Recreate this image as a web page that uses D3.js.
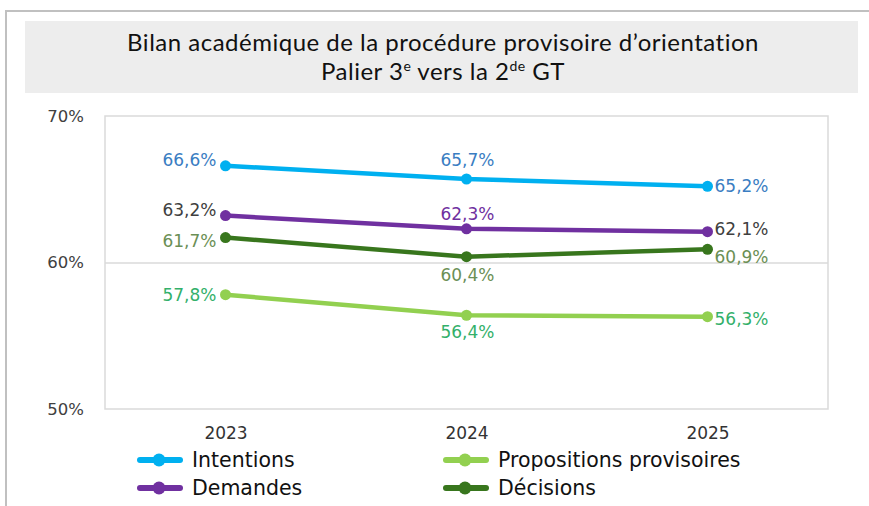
<!DOCTYPE html>
<html>
<head>
<meta charset="utf-8">
<script src="https://cdn.jsdelivr.net/npm/d3@7"></script>
<style>
  body { margin: 0; background: #fff; }
  svg { display: block; }
</style>
</head>
<body>
<div id="chart"></div>
<script>
// Data
var years = ["2023", "2024", "2025"];
var intentions   = [66.6, 65.7, 65.2];
var demandes     = [63.2, 62.3, 62.1];
var decisions    = [61.7, 60.4, 60.9];
var propositions = [57.8, 56.4, 56.3];
var yTicks = [50, 60, 70];

var series = [
  { name: "Intentions", values: intentions, color: "#00b0f0",
    labelColor: ["#3a7dc2", "#3a7dc2", "#3a7dc2"],
    place: [["left", -6], ["above", -19], ["right", 0]] },
  { name: "Demandes", values: demandes, color: "#7030a0",
    labelColor: ["#404040", "#7030a0", "#404040"],
    place: [["left", -6], ["above", -15], ["right", -3]] },
  { name: "Décisions", values: decisions, color: "#38761d",
    labelColor: ["#6b8f55", "#6b8f55", "#6b8f55"],
    place: [["left", 3], ["below", 18], ["right", 8]] },
  { name: "Propositions provisoires", values: propositions, color: "#92d050",
    labelColor: ["#33b06a", "#33b06a", "#33b06a"],
    place: [["left", 0], ["below", 17], ["right", 2]] }
];
var legendOrder = ["Intentions", "Propositions provisoires", "Demandes", "Décisions"];

var svg = d3.select("#chart").append("svg")
    .attr("width", 869)
    .attr("height", 506);

// outer frame (top and left edges only are visible)
svg.append("line").attr("x1", 5).attr("x2", 869).attr("y1", 11).attr("y2", 11)
    .attr("stroke", "#c0c0c0").attr("stroke-width", 2);
svg.append("line").attr("x1", 6).attr("x2", 6).attr("y1", 10).attr("y2", 506)
    .attr("stroke", "#c0c0c0").attr("stroke-width", 2);

// title box
svg.append("rect").attr("x", 25).attr("y", 21).attr("width", 833).attr("height", 72)
    .attr("fill", "#ededed");
var title = svg.append("text")
    .attr("text-anchor", "middle")
    .attr("font-family", "Lato, sans-serif")
    .attr("font-size", 24)
    .attr("letter-spacing", 0.5)
    .attr("fill", "#111");
title.append("tspan").attr("x", 443).attr("y", 51)
    .text("Bilan académique de la procédure provisoire d’orientation");
var t2 = title.append("tspan").attr("x", 443).attr("y", 80);
t2.append("tspan").text("Palier 3");
t2.append("tspan").attr("font-size", 14).attr("dy", -9).text("e");
t2.append("tspan").attr("dy", 9).text(" vers la 2");
t2.append("tspan").attr("font-size", 14).attr("dy", -9).text("de");
t2.append("tspan").attr("dy", 9).text(" GT");

var margin = { top: 116, left: 105, right: 41, bottom: 97 },
    width = 869 - margin.left - margin.right,
    height = 506 - margin.top - margin.bottom;

var x = d3.scalePoint().domain(years).range([0, width]).padding(0.5);
var y = d3.scaleLinear().domain([50, 70]).range([height, 0]);

var g = svg.append("g")
    .attr("transform", "translate(" + margin.left + "," + margin.top + ")");

// plot frame
g.append("rect").attr("width", width).attr("height", height)
    .attr("fill", "none").attr("stroke", "#dadada").attr("stroke-width", 1.5);

// grid line at 60%
g.append("g")
    .call(d3.axisLeft(y).tickValues([60]).tickSize(-width).tickFormat(""))
    .call(function(a) { a.select(".domain").remove(); })
    .selectAll("line").attr("stroke", "#dadada").attr("stroke-width", 1.5);

// y tick labels
g.append("g")
    .attr("transform", "translate(-18,0)")
    .call(d3.axisLeft(y).tickValues(yTicks).tickSize(0).tickFormat(function(d) { return d + "%"; }))
    .call(function(a) { a.select(".domain").remove(); })
    .selectAll("text")
    .attr("font-family", "DejaVu Sans, sans-serif")
    .attr("font-size", 16.5)
    .attr("fill", "#404040");

// x axis labels
g.append("g")
    .attr("transform", "translate(0," + height + ")")
    .call(d3.axisBottom(x).tickSize(0).tickPadding(18))
    .call(function(a) { a.select(".domain").remove(); })
    .selectAll("text")
    .attr("font-family", "DejaVu Sans, sans-serif")
    .attr("font-size", 17)
    .attr("fill", "#333");

var line = d3.line()
    .x(function(d, i) { return x(years[i]); })
    .y(function(d) { return y(d); });

series.forEach(function(s) {
  g.append("path")
      .datum(s.values)
      .attr("fill", "none")
      .attr("stroke", s.color)
      .attr("stroke-width", 4.5)
      .attr("stroke-linejoin", "round")
      .attr("d", line);

  g.selectAll(null)
      .data(s.values)
      .enter().append("circle")
      .attr("cx", function(d, i) { return x(years[i]); })
      .attr("cy", function(d) { return y(d); })
      .attr("r", 5.5)
      .attr("fill", s.color);

  g.selectAll(null)
      .data(s.values)
      .enter().append("text")
      .attr("font-family", "DejaVu Sans, sans-serif")
      .attr("font-size", 17)
      .attr("dominant-baseline", "central")
      .attr("fill", function(d, i) { return s.labelColor[i]; })
      .attr("text-anchor", function(d, i) {
        var p = s.place[i][0];
        return p === "left" ? "end" : p === "right" ? "start" : "middle";
      })
      .attr("x", function(d, i) {
        var p = s.place[i][0];
        return x(years[i]) + (p === "left" ? -9 : p === "right" ? 7 : 1);
      })
      .attr("y", function(d, i) { return y(d) + s.place[i][1]; })
      .text(function(d) { return d3.format(".1f")(d).replace(".", ",") + "%"; });
});

// legend
var legend = svg.append("g");
legendOrder.forEach(function(name, k) {
  var s = series.find(function(d) { return d.name === name; });
  var lx = k % 2 === 0 ? 138 : 444,
      ly = k < 2 ? 460 : 488;
  var item = legend.append("g").attr("transform", "translate(" + lx + "," + ly + ")");
  item.append("line").attr("x1", 2).attr("x2", 42)
      .attr("stroke", s.color).attr("stroke-width", 6).attr("stroke-linecap", "round");
  item.append("circle").attr("cx", 21).attr("r", 6.5).attr("fill", s.color);
  item.append("text")
      .attr("x", 54)
      .attr("dominant-baseline", "central")
      .attr("font-family", "DejaVu Sans, sans-serif")
      .attr("font-size", 20.5)
      .attr("fill", "#111")
      .text(name);
});
</script>
</body>
</html>
